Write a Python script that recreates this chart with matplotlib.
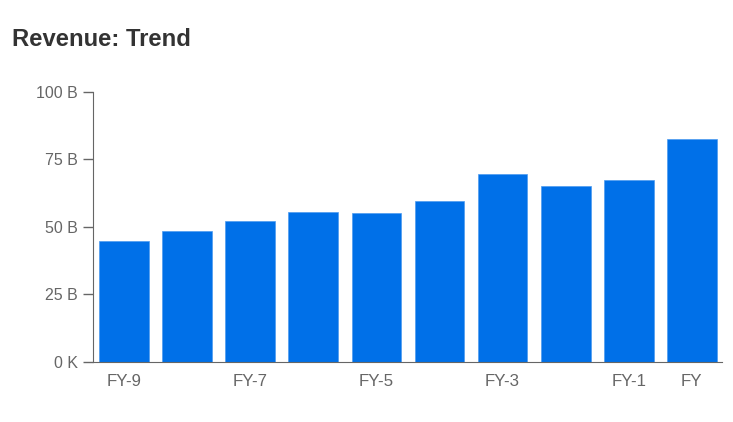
import numpy as np
import matplotlib.pyplot as plt

plt.rcParams['font.family'] = ['Liberation Sans', 'DejaVu Sans']

periods = ["FY-9", "FY-8", "FY-7", "FY-6", "FY-5", "FY-4", "FY-3", "FY-2", "FY-1", "FY"]
revenue_b = [44.8, 48.5, 52.3, 55.6, 55.2, 59.4, 69.6, 65.3, 67.3, 82.6]
shown_labels = ["FY-9", "", "FY-7", "", "FY-5", "", "FY-3", "", "FY-1", "FY"]
y_ticks = [0, 25, 50, 75, 100]
y_labels = ["0 K", "25 B", "50 B", "75 B", "100 B"]

fig = plt.figure(figsize=(7.33, 4.22), dpi=100)
ax = fig.add_axes([0.1273, 0.1429, 0.985 - 0.1273, 0.782 - 0.1429])

x = np.arange(len(periods))
ax.bar(x, revenue_b, width=0.79, color="#0070E8", edgecolor="#4d9bf0", linewidth=0.5)

ax.set_xlim(-0.49, len(periods) - 1 + 0.48)
ax.set_ylim(0, 100)
ax.set_xticks(x)
ax.set_xticklabels(shown_labels)
ax.set_yticks(y_ticks)
ax.set_yticklabels(y_labels)

for side in ["top", "right"]:
    ax.spines[side].set_visible(False)
ax.spines["left"].set_color("#666666")
ax.spines["bottom"].set_color("#666666")
ax.tick_params(axis="x", length=0, pad=9, labelsize=12.2, labelcolor="#666666")
ax.tick_params(axis="y", length=7, width=1, color="#666666", pad=4, labelsize=11.5, labelcolor="#666666")

fig.text(0.0165, 0.907, "Revenue: Trend", fontsize=17.2, fontweight="bold", color="#333333", va="center")

fig.savefig("out.png", dpi=100)
